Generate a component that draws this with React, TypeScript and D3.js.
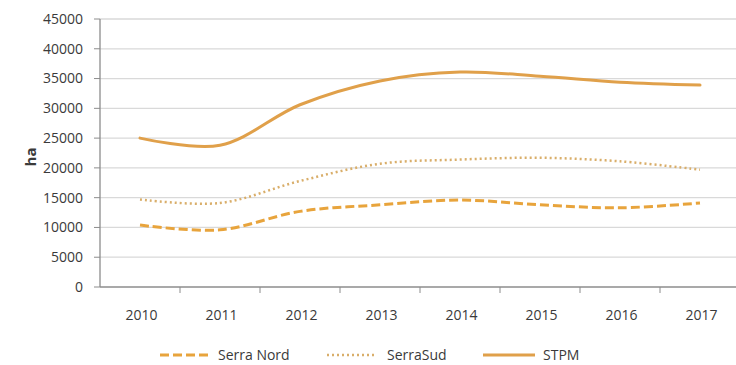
import React from "react";
import * as d3 from "d3";

const years = ["2010", "2011", "2012", "2013", "2014", "2015", "2016", "2017"];
const serraNord = [10400, 9600, 12700, 13800, 14600, 13800, 13300, 14100];
const serraSud = [14700, 14100, 17800, 20700, 21400, 21700, 21100, 19700];
const stpm = [25000, 23800, 30600, 34600, 36100, 35400, 34400, 33900];
const yTicks = [0, 5000, 10000, 15000, 20000, 25000, 30000, 35000, 40000, 45000];

const W = 736;
const H = 365;
const left = 100;
const right = 740;
const top = 19;
const bottom = 287;

const series = [
  { name: "Serra Nord", values: serraNord, color: "#E8A43C", dash: "9,4", width: 3, cap: "butt" },
  { name: "SerraSud", values: serraSud, color: "#D9AE6A", dash: "2,3", width: 2.5, cap: "butt" },
  { name: "STPM", values: stpm, color: "#E0A04A", dash: "", width: 3, cap: "round" },
];

const legendPos = [
  { x1: 160, x2: 208, tx: 218 },
  { x1: 327, x2: 375, tx: 387 },
  { x1: 483, x2: 535, tx: 543 },
];

export default function App() {
  const x = d3.scaleBand<string>().domain(years).range([left, right]).padding(0);
  const y = d3.scaleLinear().domain([0, 45000]).range([bottom, top]);
  const cx = (i: number) => (x(years[i]) as number) + x.bandwidth() / 2;
  const line = d3
    .line<number>()
    .x((_, i) => cx(i))
    .y((d) => y(d))
    .curve(d3.curveCatmullRom.alpha(0.5));

  const font = "'Open Sans', 'Liberation Sans', sans-serif";
  const fs = 14;
  const tc = "#3a3a3a";
  return (
    <svg
      width={W}
      height={H}
      style={{ position: "absolute", left: 0, top: 0, background: "#fff" }}
      fontFamily={font}
    >
      {yTicks.map((t) => (
        <g key={t}>
          {t > 0 && (
            <line x1={left} x2={W} y1={y(t)} y2={y(t)} stroke="#d9d9d9" strokeWidth={1.3} />
          )}
          <line x1={left - 6} x2={left} y1={y(t)} y2={y(t)} stroke="#8c8c8c" strokeWidth={1} />
          <text x={83} y={y(t)} dy="0.35em" textAnchor="end" fontSize={fs} fill={tc}>
            {t}
          </text>
        </g>
      ))}
      <line x1={left} x2={left} y1={top} y2={bottom} stroke="#8c8c8c" strokeWidth={1.3} />
      <line x1={left} x2={W} y1={bottom} y2={bottom} stroke="#8c8c8c" strokeWidth={1.3} />
      {years.map((yr, i) => (
        <g key={yr}>
          {i > 0 && (
            <line
              x1={x(yr) as number}
              x2={x(yr) as number}
              y1={bottom}
              y2={bottom + 6}
              stroke="#8c8c8c"
            />
          )}
          <text x={cx(i) + 1.5} y={315} dy="0.35em" textAnchor="middle" fontSize={fs} fill={tc}>
            {yr}
          </text>
        </g>
      ))}
      <text
        transform={`translate(36,157) rotate(-90)`}
        textAnchor="middle"
        fontSize={15}
        fontWeight="bold"
        fill={tc}
      >
        ha
      </text>
      {series.map((s) => (
        <path
          key={s.name}
          d={line(s.values) as string}
          fill="none"
          stroke={s.color}
          strokeWidth={s.width}
          strokeDasharray={s.dash || undefined}
          strokeLinecap={s.cap as any}
        />
      ))}
      {series.map((s, i) => (
        <g key={"lg" + s.name}>
          <line
            x1={legendPos[i].x1}
            x2={legendPos[i].x2}
            y1={355}
            y2={355}
            stroke={s.color}
            strokeWidth={s.width}
            strokeDasharray={s.dash || undefined}
          />
          <text x={legendPos[i].tx} y={355} dy="0.35em" fontSize={fs} fill={tc}>
            {s.name}
          </text>
        </g>
      ))}
    </svg>
  );
}
